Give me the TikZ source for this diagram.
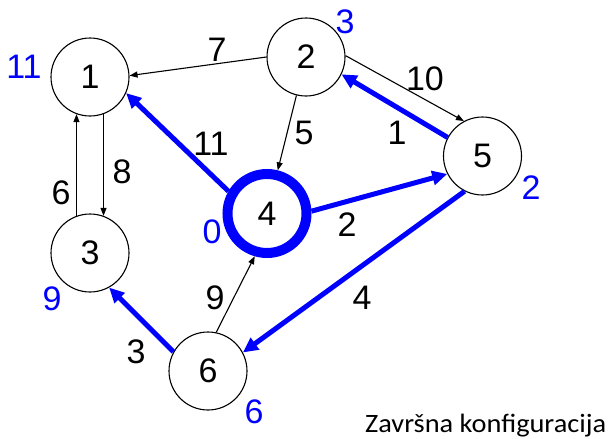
\documentclass[tikz,border=0pt]{standalone}
\usepackage{fontspec}
\setmainfont{Liberation Sans}
\newfontfamily\capfont[FakeStretch=1.07]{Carlito}
\usetikzlibrary{arrows.meta}
\definecolor{pblue}{RGB}{0,0,255}
\begin{document}
\begin{tikzpicture}[x=1pt,y=-1pt,
  vtx/.style={circle,draw=black,line width=1.1pt,minimum size=78pt,inner sep=0pt,font=\fontsize{34}{34}\selectfont},
  src/.style={circle,draw=pblue,line width=10pt,minimum size=79pt,inner sep=0pt,font=\fontsize{34}{34}\selectfont},
  thin/.style={draw=black,line width=1.1pt,-{Triangle[length=8pt,width=6pt]}},
  tree/.style={draw=pblue,line width=5pt,-{Triangle[length=15pt,width=14pt]}},
  wlab/.style={font=\fontsize{34}{34}\selectfont,inner sep=0pt},
  dlab/.style={font=\fontsize{34}{34}\selectfont,inner sep=0pt,text=pblue}]
\useasboundingbox (0,0) rectangle (608,439);
\node[vtx] (n1) at (90,77) {1};
\node[vtx] (n2) at (306,57) {2};
\node[vtx] (n3) at (90,253) {3};
\node[src] (n4) at (267,213.5) {4};
\node[vtx] (n5) at (482.5,156) {5};
\node[vtx] (n6) at (208,371) {6};
% black edges
\draw[thin] (n2.180) -- (n1.2);
\draw[thin] (n2.256) -- (n4.76);
\draw[thin] (n2.2) -- (n5.118);
\draw[thin] (n3.110) -- (n1.250);
\draw[thin] (n1.290) -- (n3.70);
\draw[thin] (n6.78) -- (n4.254);
% blue edges
\draw[tree] (n5.152) -- (n2.-26);
\draw[tree] (n4.150) -- (n1.-24);
\draw[tree] (n4.3) -- (n5.207);
\draw[tree] (n5.243) -- (n6.28);
\draw[tree] (n6.151) -- (n3.299);
% weights
\node[wlab] (w7) at (217,50) {7};
\node[wlab] (w5) at (304,133) {5};
\node[wlab] (w10) at (425,79) {10};
\node[wlab] (w1) at (397,133) {1};
\node[wlab] (w11) at (211,144) {11};
\node[wlab] (w2) at (347,225) {2};
\node[wlab] (w4) at (362,298) {4};
\node[wlab] (w3) at (136,352) {3};
\node[wlab] (w9) at (215,298) {9};
\node[wlab] (w6) at (61,193) {6};
\node[wlab] (w8) at (122,172) {8};
% distances
\node[dlab] (d1) at (24,67) {11};
\node[dlab] (d2) at (345,22) {3};
\node[dlab] (d5) at (531,188) {2};
\node[dlab] (d4) at (212,232) {0};
\node[dlab] (d3) at (52,299) {9};
\node[dlab] (d6) at (254,412) {6};
\node[anchor=base west,inner sep=0pt,font=\capfont\fontsize{26.5}{26.5}\selectfont] (cap) at (365,432) {Završna konfiguracija};
\end{tikzpicture}
\end{document}
